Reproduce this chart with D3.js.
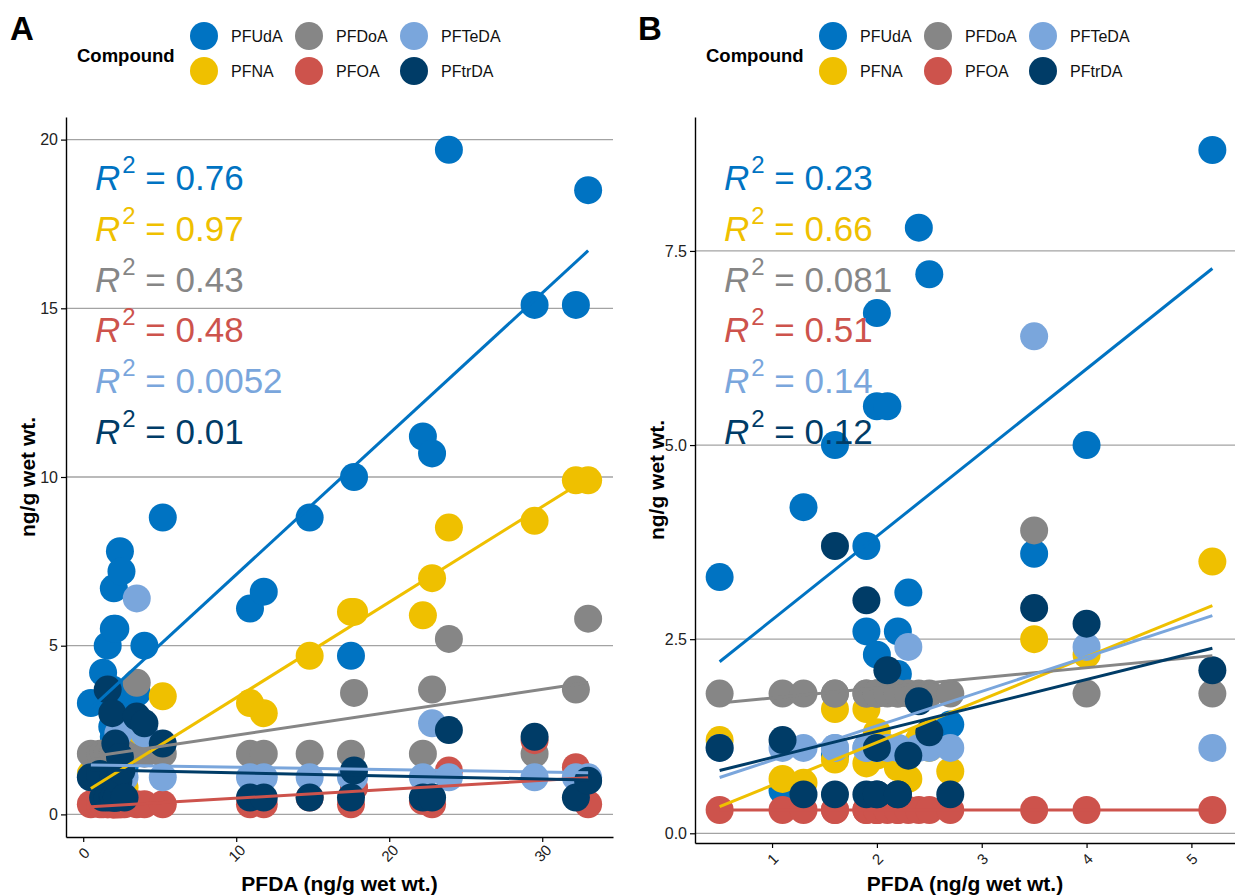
<!DOCTYPE html>
<html>
<head>
<meta charset="utf-8">
<script src="https://cdn.jsdelivr.net/npm/d3@7"></script>
<style>
  body { margin: 0; background: #fff; }
  text { font-family: "Liberation Sans", Arial, Helvetica, sans-serif; }
</style>
</head>
<body>
<svg id="chart" width="1235" height="896"></svg>
<script>
// compounds in legend / drawing order
const compounds = ["PFUdA", "PFNA", "PFDoA", "PFOA", "PFTeDA", "PFtrDA"];
const colors = ["#0073C2", "#EFC000", "#868686", "#CD534C", "#7AA6DC", "#003C67"];

// one entry per sample (ng/g wet wt.)
const pfda   = [0.5, 1.1, 1.3, 1.6, 1.6, 1.9, 1.9, 2.0, 2.0, 2.0, 2.1, 2.2, 2.2, 2.3, 2.4, 2.5, 2.7, 3.5, 4.0, 5.2,
                10.9, 11.8, 14.8, 17.5, 17.7, 22.2, 22.8, 23.9, 29.5, 32.2, 33.0];
const pfuda  = [3.3, 0.55, 4.2, 5.0, 1.0, 3.7, 2.6, 6.7, 2.3, 5.5, 5.5, 2.6, 2.05, 3.1, 7.8, 7.2, 1.4, 3.6, 5.0, 8.8,
                6.1, 6.6, 8.8, 4.7, 10.0, 11.2, 10.7, 19.7, 15.1, 15.1, 18.5];
const pfna   = [1.2, 0.7, 0.65, 1.6, 0.95, 1.6, 0.9, 1.3, 1.0, 1.2, 1.1, 0.85, 1.0, 0.7, 1.2, 1.1, 0.8, 2.5, 2.3, 3.5,
                3.3, 3.0, 4.7, 6.0, 6.0, 5.9, 7.0, 8.5, 8.7, 9.9, 9.9];
const pfdoa  = [1.8, 1.8, 1.8, 1.8, 1.8, 1.8, 1.8, 1.8, 1.8, 1.8, 1.8, 1.8, 1.8, 1.8, 1.8, 1.8, 1.8, 3.9, 1.8, 1.8,
                1.8, 1.8, 1.8, 1.8, 3.6, 1.8, 3.7, 5.2, 1.8, 3.7, 5.8];
const pfoa   = [0.3, 0.3, 0.3, 0.3, 0.3, 0.3, 0.3, 0.3, 0.3, 0.3, 0.3, 0.3, 0.3, 0.3, 0.3, 0.3, 0.3, 0.3, 0.3, 0.3,
                0.3, 0.3, 0.5, 0.3, 0.8, 0.4, 0.3, 1.3, 2.2, 1.4, 0.3];
const pfteda = [1.1, 1.1, 1.1, 1.1, 1.1, 1.1, 1.1, 1.1, 1.1, 1.1, 1.1, 1.1, 1.1, 2.4, 1.1, 1.1, 1.1, 6.4, 2.4, 1.1,
                1.1, 1.1, 1.1, 1.1, 1.1, 1.1, 2.7, 1.1, 1.1, 1.1, 1.1];
const pftrda = [1.1, 1.2, 0.5, 3.7, 0.5, 3.0, 0.5, 1.1, 0.5, 0.5, 2.1, 0.5, 0.5, 1.0, 1.7, 1.3, 0.5, 2.9, 2.7, 2.1,
                0.5, 0.5, 0.5, 0.5, 1.3, 0.5, 0.5, 2.5, 2.3, 0.5, 1.0];
const seriesValues = [pfuda, pfna, pfdoa, pfoa, pfteda, pftrda];

const r2LabelsA = ["0.76", "0.97", "0.43", "0.48", "0.0052", "0.01"];
const r2LabelsB = ["0.23", "0.66", "0.081", "0.51", "0.14", "0.12"];

const xTicksA = [0, 10, 20, 30];
const yTicksA = [0, 5, 10, 15, 20];
const xTicksB = [1, 2, 3, 4, 5];
const yTicksB = [0, 2.5, 5, 7.5];

const svg = d3.select("#chart");
const POINT_R = 14;

function expand(ext) {
  const pad = (ext[1] - ext[0]) * 0.05;
  return [ext[0] - pad, ext[1] + pad];
}

function linFit(xs, ys) {
  const mx = d3.mean(xs), my = d3.mean(ys);
  let sxy = 0, sxx = 0;
  xs.forEach((x, i) => { sxy += (x - mx) * (ys[i] - my); sxx += (x - mx) * (x - mx); });
  const b = sxy / sxx;
  return { b, a: my - b * mx };
}

function drawPanel(cfg) {
  const idx = d3.range(pfda.length).filter(i => pfda[i] <= cfg.maxPfda);
  const xs = idx.map(i => pfda[i]);
  const allY = seriesValues.flatMap(v => idx.map(i => v[i]));

  const x = d3.scaleLinear().domain(expand(d3.extent(xs))).range([cfg.left, cfg.right]);
  const y = d3.scaleLinear().domain(expand(d3.extent(allY))).range([cfg.bottom, cfg.top]);

  const g = svg.append("g");

  // horizontal grid
  g.selectAll(".grid").data(cfg.yTicks).join("line")
    .attr("x1", cfg.left).attr("x2", Math.min(cfg.right, 1235))
    .attr("y1", d => y(d)).attr("y2", d => y(d))
    .attr("stroke", "#a3a3a3").attr("stroke-width", 1.3);

  // points, one compound after another
  seriesValues.forEach((vals, c) => {
    g.append("g").selectAll("circle").data(idx).join("circle")
      .attr("cx", i => x(pfda[i]))
      .attr("cy", i => y(vals[i]))
      .attr("r", POINT_R)
      .attr("fill", colors[c]);
  });

  // linear fits
  seriesValues.forEach((vals, c) => {
    const ys = idx.map(i => vals[i]);
    const fit = linFit(xs, ys);
    const [x0, x1] = d3.extent(xs);
    g.append("line")
      .attr("x1", x(x0)).attr("y1", y(fit.a + fit.b * x0))
      .attr("x2", x(x1)).attr("y2", y(fit.a + fit.b * x1))
      .attr("stroke", colors[c]).attr("stroke-width", 3);
  });

  // axes
  const xAxis = g.append("g").attr("transform", `translate(0,${cfg.bottom})`)
    .call(d3.axisBottom(x).tickValues(cfg.xTicks).tickSize(5).tickSizeOuter(0).tickFormat(d3.format("d")));
  xAxis.select(".domain").attr("stroke", "#000").attr("stroke-width", 1.4);
  xAxis.selectAll(".tick line").attr("stroke", "#000").attr("stroke-width", 1.2);
  xAxis.selectAll(".tick text")
    .attr("font-size", 15).attr("fill", "#222")
    .attr("y", 0).attr("dy", null)
    .attr("text-anchor", "middle").attr("dominant-baseline", "central")
    .attr("transform", "translate(0,16) rotate(-45)");

  const yAxis = g.append("g").attr("transform", `translate(${cfg.left},0)`)
    .call(d3.axisLeft(y).tickValues(cfg.yTicks).tickSize(5).tickSizeOuter(0).tickFormat(cfg.yFormat));
  yAxis.select(".domain").attr("stroke", "#000").attr("stroke-width", 1.4);
  yAxis.selectAll(".tick line").attr("stroke", "#000").attr("stroke-width", 1.2);
  yAxis.selectAll(".tick text").attr("font-size", 16).attr("fill", "#222").attr("x", -8);

  // axis titles
  g.append("text")
    .attr("x", (cfg.left + Math.min(cfg.right, 1235)) / 2).attr("y", 891)
    .attr("text-anchor", "middle").attr("font-size", 21).attr("font-weight", "bold")
    .text("PFDA (ng/g wet wt.)");
  g.append("text")
    .attr("transform", `translate(${cfg.left - 31},${(cfg.top + cfg.bottom) / 2}) rotate(-90)`)
    .attr("text-anchor", "middle").attr("font-size", 21).attr("font-weight", "bold")
    .text("ng/g wet wt.");

  // R² labels
  cfg.r2.forEach((val, c) => {
    const t = g.append("text")
      .attr("x", cfg.left + 29).attr("y", 190 + c * 50.8)
      .attr("font-size", 35).attr("fill", colors[c]);
    t.append("tspan").attr("font-style", "italic").text("R");
    t.append("tspan").attr("font-size", 24).attr("dy", -17).attr("dx", 2).text("2");
    t.append("tspan").attr("dy", 17).text(" = " + val);
  });

  // panel tag
  g.append("text").attr("x", cfg.tagX).attr("y", 40)
    .attr("font-size", 33).attr("font-weight", "bold").text(cfg.tag);

  // legend
  const lg = g.append("g").attr("transform", `translate(${cfg.left + 11},0)`);
  lg.append("text").attr("x", 0).attr("y", 62)
    .attr("font-size", 18.5).attr("font-weight", "bold").text("Compound");
  const colX = [127, 232, 337];
  compounds.forEach((name, c) => {
    const col = Math.floor(c / 2), row = c % 2;
    lg.append("circle").attr("cx", colX[col]).attr("cy", 36 + row * 35)
      .attr("r", POINT_R).attr("fill", colors[c]);
    lg.append("text").attr("x", colX[col] + 27).attr("y", 42 + row * 35)
      .attr("font-size", 16).attr("fill", "#111").text(name);
  });
}

drawPanel({ tag: "A", tagX: 10, left: 66, right: 613, top: 117, bottom: 837,
  maxPfda: Infinity, xTicks: xTicksA, yTicks: yTicksA, yFormat: d3.format("d"), r2: r2LabelsA });
drawPanel({ tag: "B", tagX: 638, left: 695, right: 1237, top: 117, bottom: 843,
  maxPfda: 6, xTicks: xTicksB, yTicks: yTicksB, yFormat: d3.format(".1f"), r2: r2LabelsB });
</script>
</body>
</html>
